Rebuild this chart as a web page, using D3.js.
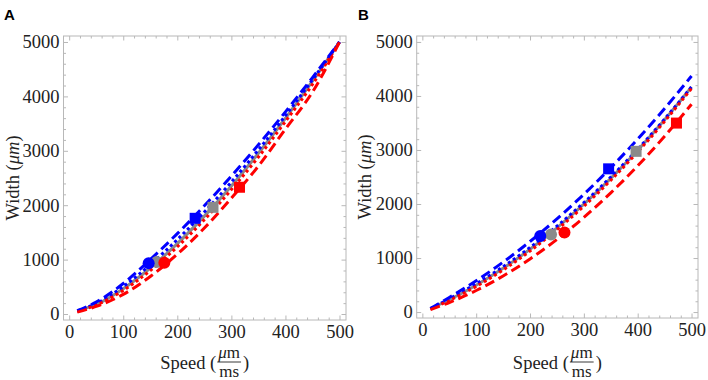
<!DOCTYPE html>
<html>
<head>
<meta charset="utf-8">
<script src="https://d3js.org/d3.v7.min.js"></script>
<style>
body { margin: 0; background: #fff; }
svg text { font-family: "Liberation Serif", "Times New Roman", serif; fill: #222; }
</style>
</head>
<body>
<svg id="chart" width="708" height="380"></svg>
<script>
const speeds = [15, 50, 100, 150, 200, 250, 300, 350, 400, 450, 500];

// panel A widths (um)
const grayA     = [55, 175, 466, 846, 1294, 1799, 2353, 2955, 3598, 4280, 5000];
const blueDotA  = [57, 193, 504, 908, 1368, 1875, 2426, 3017, 3645, 4306, 5000];
const blueDashA = [60, 220, 560, 1000, 1478, 1989, 2535, 3111, 3716, 4346, 5000];
const redDotA   = [49, 165, 434, 799, 1236, 1733, 2286, 2885, 3539, 4220, 5000];
const redDashA  = [35, 140, 360, 690, 1100, 1580, 2130, 2720, 3400, 4080, 5000];

// panel B widths (um)
const grayB     = [64, 228, 497, 809, 1162, 1558, 1996, 2475, 2997, 3560, 4166];
const blueDotB  = [66, 245, 525, 840, 1195, 1590, 2025, 2500, 3015, 3572, 4170];
const blueDashB = [65, 271, 580, 924, 1306, 1725, 2180, 2672, 3201, 3767, 4370];
const redDotB   = [60, 215, 475, 780, 1130, 1525, 1960, 2440, 2965, 3530, 4140];
const redDashB  = [45, 176, 399, 668, 983, 1344, 1752, 2207, 2707, 3254, 3848];

// marker points, order: gray, blue, red
const markerKeys = ["gray", "blue", "red"];
const circleSpeedA = [162, 147, 176];
const circleWidthA = [955, 932, 943];
const squareSpeedA = [266, 233, 315];
const squareWidthA = [1961, 1759, 2330];
const circleSpeedB = [239, 219, 264];
const circleWidthB = [1436, 1410, 1473];
const squareSpeedB = [397, 346, 472];
const squareWidthB = [2975, 2651, 3498];

// tick values
const xTicks = [0, 100, 200, 300, 400, 500];
const yTicks = [0, 1000, 2000, 3000, 4000, 5000];
const xMinor = d3.range(0, 520, 20).filter(function(v) { return v % 100 !== 0; });
const yMinor = d3.range(-200, 5200, 200).filter(function(v) { return v % 1000 !== 0 && v >= -100; });

const colors = { gray: "#8a8a8a", blue: "#0000ff", red: "#ff0000" };
const lineStyles = [
  { key: "gray", color: colors.gray, dash: null },
  { key: "blueDot", color: colors.blue, dash: "3,3" },
  { key: "redDot", color: colors.red, dash: "3,3" },
  { key: "blueDash", color: colors.blue, dash: "10,5" },
  { key: "redDash", color: colors.red, dash: "10,5" }
];

const svg = d3.select("#chart");
const fontMain = 18.5;

function drawPanel(p) {
  const x = d3.scaleLinear().domain([-10.5, 512]).range([p.left, p.right]);
  const y = d3.scaleLinear().domain([-110, 5110]).range([p.bottom, p.top]);
  const g = svg.append("g");

  // frame
  g.append("rect")
    .attr("x", p.left).attr("y", p.top)
    .attr("width", p.right - p.left).attr("height", p.bottom - p.top)
    .attr("fill", "none").attr("stroke", "#b8b8b8").attr("stroke-width", 1);

  function axis(gen, tx, ty, vals, size, labels) {
    const a = g.append("g")
      .attr("transform", "translate(" + tx + "," + ty + ")")
      .call(gen.tickValues(vals).tickSize(size).tickSizeOuter(0)
        .tickPadding(labels ? labels : 0)
        .tickFormat(labels ? d3.format("d") : ""));
    a.select(".domain").remove();
    a.selectAll(".tick line").attr("stroke", "#b8b8b8");
    a.attr("font-family", null);
    a.selectAll(".tick text").style("font-size", fontMain + "px");
    return a;
  }
  axis(d3.axisLeft(y), p.left, 0, yTicks, -4.5, 4);
  axis(d3.axisLeft(y), p.left, 0, yMinor, -2.5);
  axis(d3.axisRight(y), p.right, 0, yTicks, -4.5);
  axis(d3.axisRight(y), p.right, 0, yMinor, -2.5);
  axis(d3.axisBottom(x), 0, p.bottom, xTicks, -4.5, 5);
  axis(d3.axisBottom(x), 0, p.bottom, xMinor, -2.5);
  axis(d3.axisTop(x), 0, p.top, xTicks, -4.5);
  axis(d3.axisTop(x), 0, p.top, xMinor, -2.5);

  // curves
  const line = d3.line()
    .x(function(d) { return x(d[0]); })
    .y(function(d) { return y(d[1]); })
    .curve(d3.curveMonotoneX);
  lineStyles.forEach(function(s) {
    const pts = speeds.map(function(v, i) { return [v, p.series[s.key][i]]; });
    g.append("path")
      .attr("d", line(pts))
      .attr("fill", "none")
      .attr("stroke", s.color)
      .attr("stroke-width", 3)
      .attr("stroke-dasharray", s.dash);
  });

  // markers
  markerKeys.forEach(function(k, i) {
    g.append("circle")
      .attr("cx", x(p.circleSpeed[i])).attr("cy", y(p.circleWidth[i]))
      .attr("r", 6).attr("fill", colors[k]);
    g.append("rect")
      .attr("x", x(p.squareSpeed[i]) - 5.5).attr("y", y(p.squareWidth[i]) - 5.5)
      .attr("width", 11).attr("height", 11).attr("fill", colors[k]);
  });

  // panel letter
  svg.append("text")
    .attr("x", p.letterX).attr("y", 20)
    .style("font-family", "'Liberation Sans', Arial, sans-serif")
    .style("font-weight", "bold").style("font-size", "15px").style("fill", "#000")
    .text(p.letter);

  // y label
  const yl = svg.append("text")
    .attr("transform", "translate(" + p.yLabelX + "," + ((p.top + p.bottom) / 2) + ") rotate(-90)")
    .attr("text-anchor", "middle")
    .style("font-size", fontMain + "px");
  yl.append("tspan").text("Width (");
  yl.append("tspan").style("font-style", "italic").text("\u03bcm");
  yl.append("tspan").text(")");

  // x label with fraction
  const xl = svg.append("g");
  const base = 369;
  const t1 = xl.append("text").attr("x", 0).attr("y", base).style("font-size", fontMain + "px").text("Speed (");
  const w1 = t1.node().getComputedTextLength();
  const num = xl.append("text").attr("y", 357.5).attr("text-anchor", "middle").style("font-size", "17px");
  num.append("tspan").style("font-style", "italic").text("\u03bc");
  num.append("tspan").text("m");
  const den = xl.append("text").attr("y", 377).attr("text-anchor", "middle").style("font-size", "17px").text("ms");
  const fw = Math.max(num.node().getComputedTextLength(), den.node().getComputedTextLength()) + 2;
  const fc = w1 + 1 + fw / 2;
  num.attr("x", fc);
  den.attr("x", fc);
  xl.append("line").attr("x1", w1 + 1).attr("x2", w1 + 1 + fw)
    .attr("y1", 362).attr("y2", 362).attr("stroke", "#222").attr("stroke-width", 0.9);
  const t3 = xl.append("text").attr("x", w1 + fw + 3).attr("y", base).style("font-size", fontMain + "px").text(")");
  const total = w1 + fw + 3 + t3.node().getComputedTextLength();
  xl.attr("transform", "translate(" + ((p.left + p.right) / 2 - total / 2) + ",0)");
}

drawPanel({
  letter: "A", letterX: 4, yLabelX: 19,
  left: 63.5, right: 346, top: 36, bottom: 320,
  series: { gray: grayA, blueDot: blueDotA, blueDash: blueDashA, redDot: redDotA, redDash: redDashA },
  circleSpeed: circleSpeedA, circleWidth: circleWidthA,
  squareSpeed: squareSpeedA, squareWidth: squareWidthA
});

drawPanel({
  letter: "B", letterX: 358, yLabelX: 371,
  left: 416.7, right: 698, top: 36, bottom: 318,
  series: { gray: grayB, blueDot: blueDotB, blueDash: blueDashB, redDot: redDotB, redDash: redDashB },
  circleSpeed: circleSpeedB, circleWidth: circleWidthB,
  squareSpeed: squareSpeedB, squareWidth: squareWidthB
});
</script>
</body>
</html>
